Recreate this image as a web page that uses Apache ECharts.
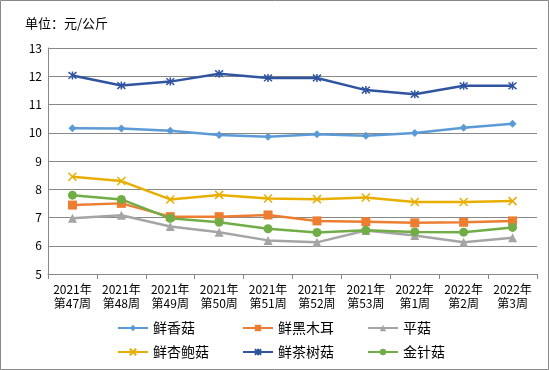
<!DOCTYPE html>
<html><head><meta charset="utf-8">
<script src="https://cdn.jsdelivr.net/npm/echarts@6/dist/echarts.min.js"></script>
<style>html,body{margin:0;padding:0;background:#fff}#c{width:549px;height:370px}</style>
</head><body><div id="c"></div>
<script>
const categories = ['2021年\n第47周','2021年\n第48周','2021年\n第49周','2021年\n第50周','2021年\n第51周','2021年\n第52周','2021年\n第53周','2022年\n第1周','2022年\n第2周','2022年\n第3周'];
const xiangGu = [10.16,10.15,10.07,9.92,9.86,9.95,9.89,9.99,10.18,10.32];
const heiMuEr = [7.44,7.50,7.03,7.03,7.09,6.88,6.85,6.81,6.83,6.88];
const pingGu = [6.97,7.08,6.68,6.48,6.19,6.12,6.54,6.36,6.12,6.28];
const xingBaoGu = [8.44,8.29,7.64,7.80,7.67,7.65,7.71,7.55,7.55,7.58];
const chaShuGu = [12.03,11.67,11.81,12.09,11.94,11.94,11.51,11.36,11.66,11.66];
const jinZhenGu = [7.79,7.64,6.97,6.83,6.60,6.47,6.55,6.49,6.48,6.65];
const yTicks = {min:5, max:13, interval:1};

const F = '"Noto Sans CJK SC", "Noto Sans", sans-serif';
const xPath = 'path://M0,0L10,10M10,0L0,10';
const starPath = 'path://M0,0L10,10M10,0L0,10M5,-1L5,11';
function S(name, data, color, symbol, size, stroke) {
  const s = {name, type:'line', data, symbol, symbolSize:size,
    lineStyle:{color, width:2.5}, itemStyle:{color}, emphasis:{disabled:true}};
  if (stroke) { s.itemStyle = {color:'rgba(0,0,0,0)', borderColor:color, borderWidth:1.5}; }
  return s;
}
const names = ['鲜香菇','鲜黑木耳','平菇','鲜杏鲍菇','鲜茶树菇','金针菇'];
const legPos = [[112,316],[237,316],[362,316],[112,340],[237,340],[362,340]];
const legends = names.map((n,i)=>({data:[n], left:legPos[i][0], top:legPos[i][1], itemWidth:30, itemHeight:8, itemGap:5,
  textStyle:{fontSize:14, color:'#000', fontFamily:F}, selectedMode:false}));

const chart = echarts.init(document.getElementById('c'), null, {renderer:'canvas'});
chart.setOption({
  animation:false,
  title:{text:'单位：元/公斤', left:20, top:12, textStyle:{fontSize:13, fontWeight:'normal', color:'#000', fontFamily:F}},
  graphic:[{type:'rect', shape:{x:0.5,y:0.5,width:548,height:369}, style:{fill:'none', stroke:'#888', lineWidth:1}}],
  legend: legends,
  grid:{left:48, right:12, top:48, bottom:96},
  xAxis:{type:'category', data:categories, boundaryGap:true,
    axisLine:{lineStyle:{color:'#888'}}, axisTick:{show:true, length:5, lineStyle:{color:'#888'}},
    axisLabel:{color:'#000', fontSize:12, fontFamily:F, lineHeight:14, margin:8, interval:0}},
  yAxis:{type:'value', min:yTicks.min, max:yTicks.max, interval:yTicks.interval,
    axisLine:{show:true, lineStyle:{color:'#888'}}, axisTick:{show:false},
    splitLine:{lineStyle:{color:'#888', width:1}},
    axisLabel:{color:'#000', fontSize:12, fontFamily:F, margin:6}},
  series:[
    S('鲜香菇', xiangGu, '#5B9BD5', 'diamond', 8),
    S('鲜黑木耳', heiMuEr, '#ED7D31', 'rect', 9),
    S('平菇', pingGu, '#A5A5A5', 'triangle', 9),
    S('鲜杏鲍菇', xingBaoGu, '#E8AE00', xPath, 8, true),
    S('鲜茶树菇', chaShuGu, '#2F55A0', starPath, 8, true),
    S('金针菇', jinZhenGu, '#70AD47', 'circle', 9)
  ]
});
</script></body></html>
